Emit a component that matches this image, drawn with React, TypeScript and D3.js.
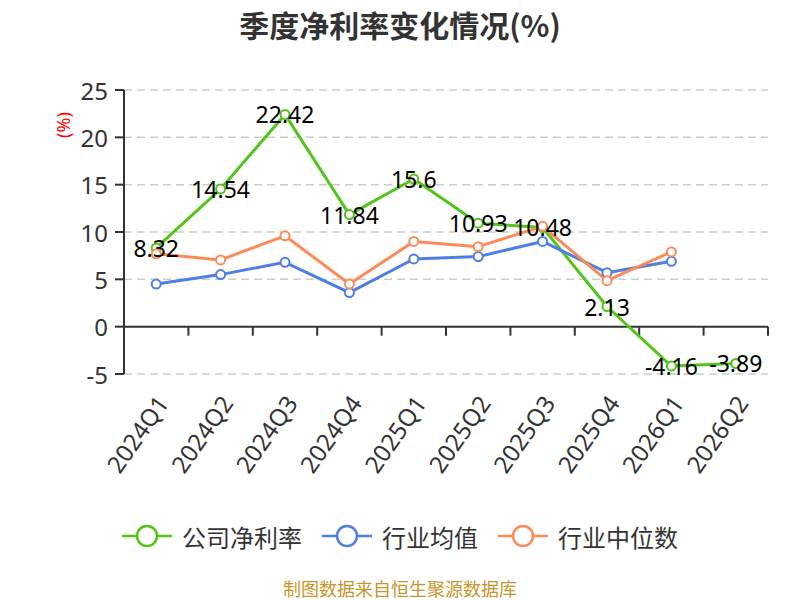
import React from "react";
import * as d3 from "d3";

const categories = ["2024Q1","2024Q2","2024Q3","2024Q4","2025Q1","2025Q2","2025Q3","2025Q4","2026Q1","2026Q2"];
const companyMargin: (number | null)[] = [8.32, 14.54, 22.42, 11.84, 15.6, 10.93, 10.48, 2.13, -4.16, -3.89];
const industryAvg: (number | null)[] = [4.5, 5.5, 6.8, 3.6, 7.15, 7.4, 9.0, 5.7, 6.9, null];
const industryMedian: (number | null)[] = [7.7, 7.05, 9.6, 4.5, 9.0, 8.45, 10.6, 4.86, 7.9, null];
const yTicks = [-5, 0, 5, 10, 15, 20, 25];
const seriesNames = ["公司净利率", "行业均值", "行业中位数"];
const seriesColors = ["#52c41a", "#4f7fe3", "#fd8b5a"];

const W = 800, H = 600;
const left = 124, right = 768, top = 90, bottom = 374;
const numFont = "'Noto Sans', 'DejaVu Sans', sans-serif";
const cjkFont = "'Noto Sans CJK SC', 'Noto Sans', sans-serif";

export default function App() {
  const x = d3.scaleBand<string>().domain(categories).range([left, right]);
  const y = d3.scaleLinear().domain([-5, 25]).range([bottom, top]);
  const cx = (c: string) => (x(c) as number) + x.bandwidth() / 2;
  const allSeries = [companyMargin, industryAvg, industryMedian];
  const line = d3
    .line<number | null>()
    .defined((d) => d !== null)
    .x((_, i) => cx(categories[i]))
    .y((d) => y(d as number));

  const legendWidths = seriesNames.map((n) => 60 + n.length * 24);
  const gap = 20;
  const totalLegend = legendWidths.reduce((a, b) => a + b, 0) + gap * (seriesNames.length - 1);
  let lx = W / 2 - totalLegend / 2;
  const legendPos = legendWidths.map((w) => {
    const p = lx;
    lx += w + gap;
    return p;
  });
  const legendY = 536;

  return (
    <svg width={W} height={H} style={{ position: "absolute", left: 0, top: 0, background: "#fff" }}>
      <rect x={0} y={0} width={W} height={H} fill="#fff" />
      <text x={W / 2} y={24} textAnchor="middle" dominantBaseline="central" fontFamily={cjkFont} fontWeight="bold" fontSize={30} fill="#333">
        季度净利率变化情况(%)
      </text>
      {/* grid */}
      {yTicks.filter((t) => t !== 0).map((t) => (
        <line key={t} x1={left} x2={right} y1={y(t)} y2={y(t)} stroke="#ccc" strokeWidth={1.5} strokeDasharray="8,5" />
      ))}
      {/* y axis */}
      <line x1={left} x2={left} y1={top} y2={bottom} stroke="#333" strokeWidth={2} />
      {yTicks.map((t) => (
        <g key={t}>
          <line x1={left - 9} x2={left} y1={y(t)} y2={y(t)} stroke="#333" strokeWidth={2} />
          <text x={left - 16} y={y(t)} textAnchor="end" dominantBaseline="central" fontFamily={numFont} fontSize={24} fill="#333">
            {t}
          </text>
        </g>
      ))}
      <text transform={`translate(63,125) rotate(-90)`} textAnchor="middle" dominantBaseline="central" fontFamily={numFont} fontSize={18} fill="#ff0000">
        (%)
      </text>
      {/* x axis */}
      <line x1={left} x2={right} y1={y(0)} y2={y(0)} stroke="#333" strokeWidth={2} />
      {categories.map((c, i) => (
        <line key={"t" + i} x1={x(c) as number} x2={x(c) as number} y1={y(0)} y2={y(0) + 9} stroke="#333" strokeWidth={2} />
      ))}
      <line x1={right} x2={right} y1={y(0)} y2={y(0) + 9} stroke="#333" strokeWidth={2} />
      {categories.map((c) => (
        <text key={c} transform={`translate(${cx(c) + 6},398) rotate(-55)`} textAnchor="end" dominantBaseline="central" fontFamily={numFont} fontSize={24} fill="#333">
          {c}
        </text>
      ))}
      {/* lines */}
      {allSeries.map((s, si) => (
        <path key={si} d={line(s) || ""} fill="none" stroke={seriesColors[si]} strokeWidth={3} strokeLinejoin="round" />
      ))}
      {allSeries.map((s, si) =>
        s.map((v, i) =>
          v === null ? null : (
            <circle key={si + "-" + i} cx={cx(categories[i])} cy={y(v)} r={4.5} fill="#fff" stroke={seriesColors[si]} strokeWidth={2} />
          )
        )
      )}
      {companyMargin.map((v, i) =>
        v === null ? null : (
          <text key={"l" + i} x={cx(categories[i])} y={y(v)} textAnchor="middle" dominantBaseline="central" fontFamily={numFont} fontSize={23} fill="#000">
            {v}
          </text>
        )
      )}
      {/* legend */}
      {seriesNames.map((n, i) => (
        <g key={n} transform={`translate(${legendPos[i]},${legendY})`}>
          <line x1={0} x2={50} y1={0} y2={0} stroke={seriesColors[i]} strokeWidth={2.5} />
          <circle cx={25} cy={0} r={10} fill="#fff" stroke={seriesColors[i]} strokeWidth={2.5} />
          <text x={60} y={0} dominantBaseline="central" fontFamily={cjkFont} fontSize={24} fill="#333">
            {n}
          </text>
        </g>
      ))}
      <text x={W / 2} y={588} textAnchor="middle" dominantBaseline="central" fontFamily={cjkFont} fontSize={18} fill="#c9952b">
        制图数据来自恒生聚源数据库
      </text>
    </svg>
  );
}
